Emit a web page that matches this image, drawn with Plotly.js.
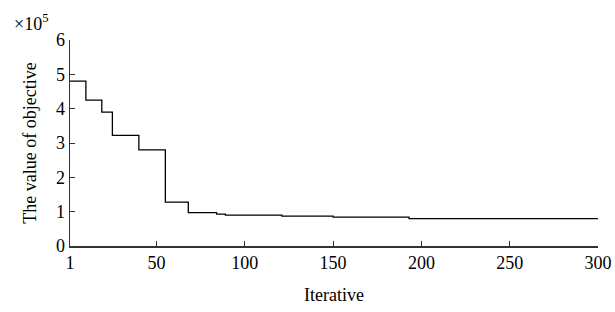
<!DOCTYPE html>
<html><head><meta charset="utf-8">
<script src="https://cdn.plot.ly/plotly-3.0.1.min.js"></script>
<style>html,body{margin:0;padding:0;background:#fff}</style>
</head><body><div id="chart" style="width:615px;height:312px"></div>
<script>
// Step points (iteration, objective value ×10^5)
const iterations = [1, 10, 19, 25, 40, 55, 68, 84, 89, 121, 150, 193, 300];
const objective  = [4.8, 4.25, 3.9, 3.22, 2.8, 1.28, 0.97, 0.93, 0.9, 0.87, 0.84, 0.8, 0.8];
const xTicks = [1, 50, 100, 150, 200, 250, 300];
const yTicks = [0, 1, 2, 3, 4, 5, 6];

const font = {family: 'Liberation Serif, DejaVu Serif, serif', size: 18, color: '#000'};
Plotly.newPlot('chart', [{
  x: iterations, y: objective, type: 'scatter', mode: 'lines',
  line: {shape: 'hv', color: '#000', width: 1.3}, hoverinfo: 'skip'
}], {
  width: 615, height: 312,
  margin: {l: 70, r: 17, t: 40, b: 66},
  paper_bgcolor: '#fff', plot_bgcolor: '#fff',
  font: font, showlegend: false,
  xaxis: {range: [1, 300], tickvals: xTicks, ticktext: xTicks.map(String),
    ticks: 'inside', ticklen: 5, tickcolor: '#333', tickwidth: 1,
    showline: true, linecolor: '#333', linewidth: 1.5, showgrid: false, zeroline: false,
    title: {text: 'Iterative', font: font, standoff: 16}},
  yaxis: {range: [0, 6], tickvals: yTicks, ticktext: yTicks.map(String),
    ticks: 'inside', ticklen: 5, tickcolor: '#333', tickwidth: 1,
    showline: true, linecolor: '#333', linewidth: 1.5, showgrid: false, zeroline: false,
    title: {text: 'The value of objective', font: font, standoff: 14}},
  annotations: [{xref: 'paper', yref: 'paper', x: -0.11, y: 1.02, xanchor: 'left', yanchor: 'bottom',
    text: '×10<sup>5</sup>', showarrow: false, font: font}]
}, {displayModeBar: false, staticPlot: true});
</script></body></html>
